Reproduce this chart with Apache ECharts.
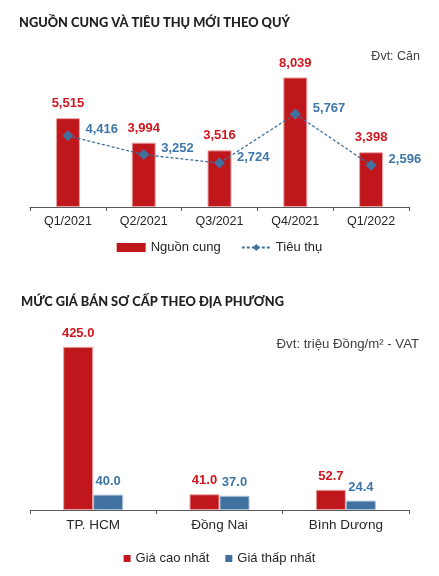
<!DOCTYPE html>
<html>
<head>
<meta charset="utf-8">
<script src="https://cdn.jsdelivr.net/npm/echarts@6/dist/echarts.min.js"></script>
<style>
  html, body { margin: 0; padding: 0; background: #fff; }
  #main { width: 439px; height: 576px; }
</style>
</head>
<body>
<div id="main"></div>
<script>
// Nguồn cung và tiêu thụ mới theo quý
var quarters = ['Q1/2021', 'Q2/2021', 'Q3/2021', 'Q4/2021', 'Q1/2022'];
var nguonCung = [5515, 3994, 3516, 8039, 3398];
var tieuThu = [4416, 3252, 2724, 5767, 2596];

// Mức giá bán sơ cấp theo địa phương
var regions = ['TP. HCM', 'Đồng Nai', 'Bình Dương'];
var giaCao = [425.0, 41.0, 52.7];
var giaThap = [40.0, 37.0, 24.4];

var RED = '#C0171C';
var BLUE = '#41729F';
var fontBase = '"Liberation Sans", Arial, sans-serif';

var chart = echarts.init(document.getElementById('main'));
var option = {
  animation: false,
  textStyle: { fontFamily: fontBase },
  title: [{
    text: 'NGUỒN CUNG VÀ TIÊU THỤ MỚI THEO QUÝ',
    left: 14, top: 11,
    textStyle: { fontFamily: 'Lato', fontWeight: 900, fontSize: 12.8, color: '#222' }
  }, {
    text: 'Đvt: Căn',
    right: 14, top: 45,
    textStyle: { fontWeight: 'normal', fontSize: 12.5, color: '#404040' }
  }, {
    text: 'MỨC GIÁ BÁN SƠ CẤP THEO ĐỊA PHƯƠNG',
    left: 16, top: 290,
    textStyle: { fontFamily: 'Lato', fontWeight: 900, fontSize: 12.8, color: '#222' }
  }, {
    text: 'Đvt: triệu Đồng/m² - VAT',
    right: 15, top: 333,
    textStyle: { fontWeight: 'normal', fontSize: 13.2, color: '#404040' }
  }],
  legend: [{
    data: [
      { name: 'Nguồn cung', icon: 'rect', itemStyle: { borderWidth: 0 } },
      { name: 'Tiêu thụ' }
    ],
    top: 236, left: 'center',
    itemWidth: 29, itemHeight: 9, itemGap: 20,
    textStyle: { fontSize: 13, color: '#262626' }
  }, {
    data: [
      { name: 'Giá cao nhất', itemStyle: { borderWidth: 0 } },
      { name: 'Giá thấp nhất', itemStyle: { borderWidth: 0 } }
    ],
    top: 547, left: 'center',
    icon: 'rect', itemWidth: 7, itemHeight: 7, itemGap: 16,
    textStyle: { fontSize: 13, color: '#262626' }
  }],
  grid: [
    { left: 30, right: 30, top: 62, height: 145 },
    { left: 30, right: 30, top: 318, height: 192 }
  ],
  xAxis: [{
    gridIndex: 0,
    type: 'category',
    data: quarters,
    axisTick: { show: true, length: 4, lineStyle: { color: '#595959' } },
    axisLine: { lineStyle: { color: '#595959', width: 1 } },
    axisLabel: { fontSize: 12.5, color: '#262626', margin: 8 }
  }, {
    gridIndex: 1,
    type: 'category',
    data: regions,
    axisTick: { show: true, length: 4, lineStyle: { color: '#595959' } },
    axisLine: { lineStyle: { color: '#595959', width: 1 } },
    axisLabel: { fontSize: 13.5, color: '#262626', margin: 8 }
  }],
  yAxis: [{
    gridIndex: 0, type: 'value', min: 0, max: 9000, show: false
  }, {
    gridIndex: 1, type: 'value', min: 0, max: 500, show: false
  }],
  series: [{
    name: 'Nguồn cung',
    type: 'bar',
    xAxisIndex: 0, yAxisIndex: 0,
    barWidth: 24,
    itemStyle: { color: RED, borderColor: '#EBA4A4', borderWidth: 1 },
    label: {
      show: true, position: 'top', distance: 8,
      formatter: function (p) { return p.value.toLocaleString('en-US'); },
      fontSize: 13, fontWeight: 'bold', color: '#D0161E'
    },
    data: nguonCung
  }, {
    name: 'Tiêu thụ',
    type: 'line',
    xAxisIndex: 0, yAxisIndex: 0,
    symbol: 'diamond', symbolSize: 11,
    itemStyle: { color: '#41729F' },
    lineStyle: { color: '#41729F', width: 1.3, type: [3, 2] },
    label: {
      show: true, position: 'right', distance: 12, offset: [0, -6],
      formatter: function (p) { return p.value.toLocaleString('en-US'); },
      fontSize: 13, fontWeight: 'bold', color: '#3F76A8'
    },
    data: tieuThu
  }, {
    name: 'Giá cao nhất',
    type: 'bar',
    xAxisIndex: 1, yAxisIndex: 1,
    barWidth: 30, barGap: '0%',
    itemStyle: { color: RED, borderColor: '#EBA4A4', borderWidth: 1 },
    label: {
      show: true, position: 'top', distance: 7,
      formatter: function (p) { return p.value.toFixed(1); },
      fontSize: 13, fontWeight: 'bold', color: '#D0161E'
    },
    data: giaCao
  }, {
    name: 'Giá thấp nhất',
    type: 'bar',
    xAxisIndex: 1, yAxisIndex: 1,
    barWidth: 30, barGap: '0%',
    itemStyle: { color: BLUE, borderColor: '#A9C1DA', borderWidth: 1 },
    label: {
      show: true, position: 'top', distance: 7,
      formatter: function (p) { return p.value.toFixed(1); },
      fontSize: 13, fontWeight: 'bold', color: '#3F76A8'
    },
    data: giaThap
  }]
};
chart.setOption(option);
</script>
</body>
</html>
